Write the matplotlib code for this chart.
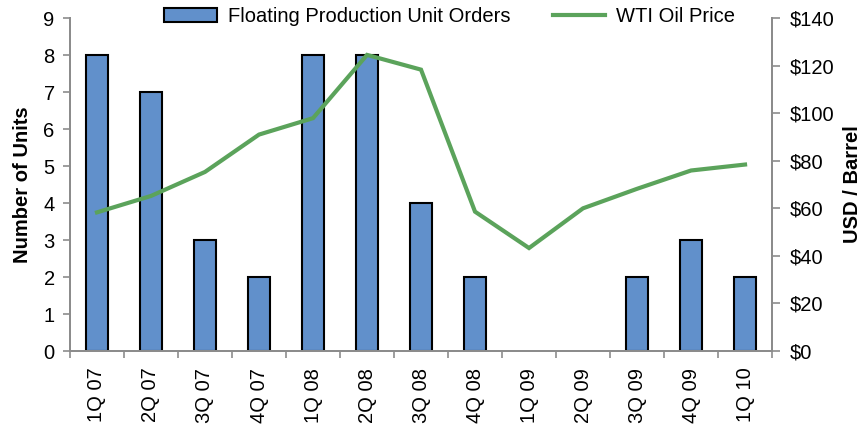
import numpy as np
import matplotlib.pyplot as plt

plt.rcParams['font.family'] = ['Liberation Sans', 'DejaVu Sans']

quarters = ['1Q 07', '2Q 07', '3Q 07', '4Q 07', '1Q 08', '2Q 08', '3Q 08',
            '4Q 08', '1Q 09', '2Q 09', '3Q 09', '4Q 09', '1Q 10']
unit_orders = [8, 7, 3, 2, 8, 8, 4, 2, 0, 0, 2, 3, 2]
wti_price = [58.3, 65.2, 75.3, 91.0, 97.9, 124.5, 118.3, 58.6, 43.3, 60.0, 68.2, 75.9, 78.4]

axis_grey = '#8c8c8c'
fs = 14.5

fig = plt.figure(figsize=(8.63, 4.25), dpi=100)
ax = fig.add_axes([0.0811, 0.174, 0.8135, 0.7836])
ax2 = ax.twinx()

x = np.arange(len(quarters))
bars = ax.bar(x, unit_orders, width=0.41, color='#6190cb', edgecolor='black',
              linewidth=1.5, label='Floating Production Unit Orders', zorder=2)
# empty quarters: no outline sitting on the axis
for patch, n in zip(bars.patches, unit_orders):
    if n == 0:
        patch.set_linewidth(0)
line, = ax2.plot(x, wti_price, color='#5ba35b', linewidth=3.0,
                 label='WTI Oil Price', solid_joinstyle='miter')

ax.set_xlim(-0.5, len(quarters) - 0.5)
ax.set_ylim(0, 9)
ax.set_yticks(range(10))
ax2.set_ylim(0, 140)
ax2.set_yticks(range(0, 141, 20))
ax2.set_yticklabels(['$%d' % v for v in range(0, 141, 20)])

ax.set_xticks(x)
ax.set_xticklabels(quarters, rotation=90)
ax.set_xticks(np.arange(-0.5, len(quarters)), minor=True)
ax.tick_params(axis='x', which='major', length=0, pad=12, labelsize=fs)
ax.tick_params(axis='x', which='minor', length=5, color=axis_grey, width=1.2)
ax.tick_params(axis='y', length=5, color=axis_grey, width=1.2, labelsize=fs, pad=6)
ax2.tick_params(axis='y', length=6, color=axis_grey, width=1.2, labelsize=fs, pad=7)

for a in (ax, ax2):
    a.spines['top'].set_visible(False)
    for s in ('left', 'right', 'bottom'):
        a.spines[s].set_color(axis_grey)
        a.spines[s].set_linewidth(1.4)

ax.set_ylabel('Number of Units', fontsize=fs, fontweight='bold', labelpad=8)
ax2.set_ylabel('USD / Barrel', fontsize=fs, fontweight='bold', labelpad=6)

fig.legend([bars, line], ['Floating Production Unit Orders', 'WTI Oil Price'],
           loc='center', bbox_to_anchor=(0.521, 0.961), ncol=2, frameon=False,
           fontsize=fs, handlelength=2.6, handleheight=0.65, columnspacing=2.1,
           handletextpad=0.55, borderpad=0, borderaxespad=0)

fig.savefig('out.png', dpi=100)
